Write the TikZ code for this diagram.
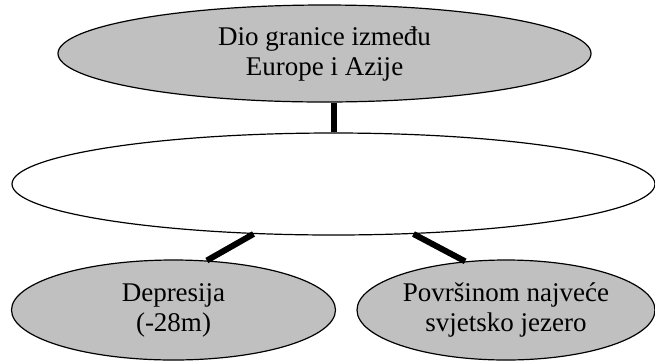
\documentclass[tikz,border=0pt]{standalone}
\usepackage{fontspec}
\newfontfamily\ovalfont{Liberation Serif}
\usepackage{tikz}
\usetikzlibrary{shapes}
\usetikzlibrary{shapes.geometric}
\definecolor{silver}{RGB}{192,192,192}

\begin{document}
\begin{tikzpicture}[x=0.5pt,y=-0.5pt,
greyovalnode/.style={ellipse, draw=black, fill=silver, line width=0.6pt, inner sep=0pt, align=center, font=\ovalfont\fontsize{13.5}{15}\selectfont},
whiteovalnode/.style={ellipse, draw=black, fill=white, line width=0.6pt, inner sep=0pt},
fat line/.style={line width=3pt}
]
\useasboundingbox (0,0) rectangle (655,361);

%Nodes
\node[greyovalnode, minimum width=266.5pt, minimum height=48.5pt] at (324.5,53.5) (BORDER) {Dio granice između\\Europe i Azije};
\node[whiteovalnode, minimum width=321.5pt, minimum height=51pt] at (333.5,184) (EMPTY) {};
\node[greyovalnode, minimum width=162pt, minimum height=50pt] at (173.5,310) (DEPRESSION) {Depresija\\(-28m)};
\node[greyovalnode, minimum width=149pt, minimum height=50pt] at (506,310) (LAKE) {Površinom najveće\\svjetsko jezero};

%Lines
\draw[fat line] (EMPTY.north) -- (EMPTY.north |- BORDER.south);
\draw[fat line] (EMPTY.212) -- (DEPRESSION.56);
\draw[fat line] (EMPTY.328) -- (LAKE.130);
\end{tikzpicture}
\end{document}
